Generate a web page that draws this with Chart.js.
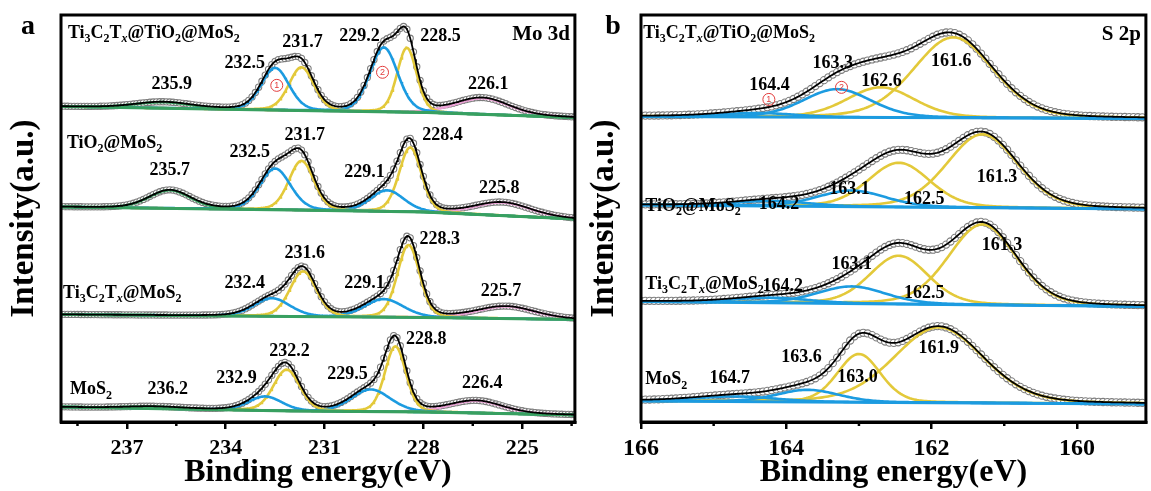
<!DOCTYPE html>
<html>
<head>
<meta charset="utf-8">
<script src="https://cdn.jsdelivr.net/npm/chart.js@4.4.1/dist/chart.umd.min.js"></script>
<style>
  html, body { margin: 0; padding: 0; background: #fff; }
  body { width: 1151px; height: 491px; position: relative; overflow: hidden; }
  .panel { position: absolute; top: 0; height: 491px; }
  #panelA { left: 0; width: 580px; }
  #panelB { left: 580px; width: 571px; }
</style>
</head>
<body>
<div class="panel" id="panelA"><canvas id="moChart"></canvas></div>
<div class="panel" id="panelB"><canvas id="sChart"></canvas></div>
<script>
/* ============================================================
   XPS fits: Mo 3d (a) and S 2p (b), four samples stacked
   intensity is in arbitrary units, offset per sample
============================================================ */

// ---- axes ----
const moRange = [223.4, 239];
const moMajorTicks = [237, 234, 231, 228, 225];
const moMinorTicks = [238.5, 235.5, 232.5, 229.5, 226.5, 223.5];
const sRange = [159.05, 166];
const sMajorTicks = [166, 164, 162, 160];
const sMinorTicks = [165, 163, 161];
const yTop = 405;

// ---- Mo 3d, peak fits (center eV, height, fwhm eV) ----
// Ti3C2Tx@TiO2@MoS2
const mo1Base = [[239, 314], [231.8, 310], [227.9, 308], [223.4, 303]];
const mo1Centers = [235.9, 232.5, 231.7, 229.2, 228.5, 226.2];
const mo1Heights = [6, 42, 43, 64, 64, 16];
const mo1Fwhm = [2.0, 1.0, 0.9, 1.0, 0.7, 1.9];
const mo1Kinds = ['Mo6+', '1T', '2H', '1T', '2H', 'S2s'];
// TiO2@MoS2
const mo2Base = [[239, 214], [232, 211], [228, 209], [223.4, 202]];
const mo2Centers = [235.7, 232.5, 231.7, 229.1, 228.4, 225.6];
const mo2Heights = [18, 41, 49, 21, 64, 13];
const mo2Fwhm = [1.5, 1.1, 0.9, 1.2, 0.8, 2.0];
const mo2Kinds = ['Mo6+', '1T', '2H', '1T', '2H', 'S2s'];
// Ti3C2Tx@MoS2
const mo3Base = [[239, 107], [232, 105], [228, 104], [223.4, 102]];
const mo3Centers = [232.6, 231.65, 229.2, 228.45, 225.5];
const mo3Heights = [18, 45, 18, 72, 12];
const mo3Fwhm = [1.3, 0.95, 1.4, 0.8, 2.1];
const mo3Kinds = ['1T', '2H', '1T', '2H', 'S2s'];
// MoS2
const mo4Base = [[239, 15], [232, 11], [228, 10], [223.4, 7]];
const mo4Centers = [236.2, 232.8, 232.15, 229.6, 228.85, 226.4];
const mo4Heights = [2, 14, 41, 22, 65, 12];
const mo4Fwhm = [2.0, 1.2, 0.95, 1.4, 0.75, 1.9];
const mo4Kinds = ['Mo6+', '1T', '2H', '1T', '2H', 'S2s'];

// ---- S 2p ----
const s1Base = [[166, 304], [159.05, 302]];
const s1Centers = [164.4, 163.3, 162.7, 161.7];
const s1Heights = [4, 28, 30, 80];
const s1Fwhm = [1.2, 1.1, 1.1, 1.3];
const s1Kinds = ['1T', '1T', '2H', '2H'];

const s2Base = [[166, 216], [159.05, 212]];
const s2Centers = [164.2, 163.1, 162.45, 161.3];
const s2Heights = [5, 16, 44, 73];
const s2Fwhm = [1.2, 1.1, 1.0, 1.15];
const s2Kinds = ['1T', '1T', '2H', '2H'];

const s3Base = [[166, 120], [159.05, 115]];
const s3Centers = [164.2, 163.1, 162.45, 161.3];
const s3Heights = [5, 17, 48, 80];
const s3Fwhm = [1.2, 1.1, 0.95, 1.1];
const s3Kinds = ['1T', '1T', '2H', '2H'];

const s4Base = [[166, 21], [159.05, 18]];
const s4Centers = [164.7, 163.7, 163.0, 161.9];
const s4Heights = [5, 12, 48, 75];
const s4Fwhm = [1.3, 1.0, 0.7, 1.45];
const s4Kinds = ['1T', '1T', '2H', '2H'];

// ---- sample names (segments: text, '' | 'sub' | 'subi') ----
const nameTTM = [['Ti', ''], ['3', 'sub'], ['C', ''], ['2', 'sub'], ['T', ''], ['x', 'subi'], ['@TiO', ''], ['2', 'sub'], ['@MoS', ''], ['2', 'sub']];
const nameTM = [['TiO', ''], ['2', 'sub'], ['@MoS', ''], ['2', 'sub']];
const nameTCM = [['Ti', ''], ['3', 'sub'], ['C', ''], ['2', 'sub'], ['T', ''], ['x', 'subi'], ['@MoS', ''], ['2', 'sub']];
const nameM = [['MoS', ''], ['2', 'sub']];

// ---- peak labels [text, eV, y] ----
const mo1Labels = [['235.9', 235.64, 336], ['232.5', 233.42, 357], ['231.7', 231.67, 378], ['229.2', 229.94, 384], ['228.5', 227.48, 384], ['226.1', 226.03, 336]];
const mo2Labels = [['235.7', 235.7, 250], ['232.5', 233.27, 268], ['231.7', 231.6, 285], ['229.1', 229.79, 248], ['228.4', 227.42, 285], ['225.8', 225.7, 233]];
const mo3Labels = [['232.4', 233.42, 138], ['231.6', 231.6, 168], ['229.1', 229.79, 138], ['228.3', 227.5, 182], ['225.7', 225.64, 130]];
const mo4Labels = [['236.2', 235.76, 32], ['232.9', 233.67, 43], ['232.2', 232.06, 70], ['229.5', 230.3, 47], ['228.8', 227.91, 82], ['226.4', 226.21, 38]];
const moNameLabels = [[nameTTM, 238.79, 387], [nameTM, 238.82, 277], [nameTCM, 238.94, 128], [nameM, 238.73, 32]];
const moMarks = [['1', 232.45, 335], ['2', 229.24, 348]];

const s1Labels = [['164.4', 164.23, 335], ['163.3', 163.36, 357], ['162.6', 162.69, 339], ['161.6', 161.73, 359]];
const s2Labels = [['164.2', 164.1, 217], ['163.1', 163.13, 232], ['162.5', 162.1, 222], ['161.3', 161.1, 243]];
const s3Labels = [['164.2', 164.05, 135], ['163.1', 163.1, 157], ['162.5', 162.1, 128], ['161.3', 161.03, 176]];
const s4Labels = [['164.7', 164.78, 43], ['163.6', 163.79, 64], ['163.0', 163.02, 44], ['161.9', 161.9, 73]];
const sNameLabels = [[nameTTM, 165.97, 387], [nameTM, 165.94, 215], [nameTCM, 165.94, 137], [nameM, 165.94, 42]];
const sMarks = [['1', 164.24, 321], ['2', 163.24, 333]];

// ---- styling ----
const SERIF = "'Liberation Serif', 'Times New Roman', serif";
const GL_MIX = 0.2;   // lorentzian fraction of the pseudo-voigt shape
const kindColor = {'2H': '#e3c93a', '1T': '#1c9be0', 'S2s': '#eca2d6', 'Mo6+': '#38a060'};

function baseAt(base, e) {
  for (let i = 0; i < base.length - 1; i++) {
    const [e0, y0] = base[i], [e1, y1] = base[i + 1];
    if (e <= e0 && e >= e1) return y0 + (y1 - y0) * (e - e0) / (e1 - e0);
  }
  return e > base[0][0] ? base[0][1] : base[base.length - 1][1];
}

function peakAt(e, c, h, w) {
  const d = 2 * (e - c) / w;
  return h * ((1 - GL_MIX) * Math.exp(-Math.LN2 * d * d) + GL_MIX / (1 + d * d));
}

function energyGrid(range, step) {
  const g = [];
  for (let e = range[1]; e >= range[0] - 1e-9; e -= step) g.push(+e.toFixed(3));
  return g;
}

// one sample -> datasets (fit components, background, raw circles, envelope)
function spectrumSets(range, base, centers, heights, fwhm, kinds, baseColor, dot) {
  const lineE = energyGrid(range, 0.025);
  const dotE = energyGrid(range, dot.step);
  const env = (e) => baseAt(base, e) + centers.reduce((s, c, i) => s + peakAt(e, c, heights[i], fwhm[i]), 0);
  const sets = [];
  centers.forEach((c, i) => {
    sets.push({
      data: lineE.map(e => ({x: e, y: baseAt(base, e) + peakAt(e, c, heights[i], fwhm[i])})),
      borderColor: kindColor[kinds[i]], borderWidth: 2.6, pointRadius: 0, order: 2,
    });
  });
  sets.push({
    data: base.map(([e, y]) => ({x: e, y})),
    borderColor: baseColor, borderWidth: 3, pointRadius: 0, order: 1,
  });
  sets.push({
    data: dotE.map(e => ({x: e, y: env(e)})),
    showLine: false, pointRadius: dot.r, pointBorderWidth: 1.1,
    pointBorderColor: '#7d7d7d', pointBackgroundColor: '#ffffff', order: 3,
  });
  sets.push({
    data: lineE.map(e => ({x: e, y: env(e)})),
    borderColor: '#000', borderWidth: 1.8, pointRadius: 0, order: 0,
  });
  return sets;
}

function drawRich(ctx, segs, x, y, size) {
  let cx = x;
  ctx.textAlign = 'left';
  for (const [txt, kind] of segs) {
    const sub = kind !== '';
    const fs = sub ? Math.round(size * 0.68) : size;
    ctx.font = `${kind === 'subi' ? 'italic ' : ''}bold ${fs}px ${SERIF}`;
    ctx.fillText(txt, cx, sub ? y + size * 0.32 : y);
    cx += ctx.measureText(txt).width;
  }
}

const decorPlugin = {
  id: 'decor',
  afterDatasetsDraw(chart, args, opts) {
    const {ctx, chartArea: a, scales: {x, y}} = chart;
    ctx.save();
    ctx.strokeStyle = '#000';
    ctx.lineWidth = 3;
    ctx.strokeRect(a.left, a.top, a.right - a.left, a.bottom - a.top);
    ctx.lineWidth = 2.5;
    opts.minor.forEach(v => {
      const px = x.getPixelForValue(v);
      ctx.beginPath(); ctx.moveTo(px, a.bottom); ctx.lineTo(px, a.bottom + 4); ctx.stroke();
    });

    ctx.fillStyle = '#000';
    ctx.textBaseline = 'middle';
    ctx.textAlign = 'center';
    ctx.font = `bold 18px ${SERIF}`;
    opts.labels.forEach(list => list.forEach(([t, e, v]) => {
      ctx.fillText(t, x.getPixelForValue(e), y.getPixelForValue(v));
    }));
    opts.names.forEach(([segs, e, v]) => drawRich(ctx, segs, x.getPixelForValue(e), y.getPixelForValue(v), 18));

    // circled markers
    opts.marks.forEach(([n, e, v]) => {
      const px = x.getPixelForValue(e), py = y.getPixelForValue(v);
      ctx.strokeStyle = '#e23b3b'; ctx.fillStyle = '#e23b3b'; ctx.lineWidth = 1;
      ctx.beginPath(); ctx.arc(px, py, 6, 0, Math.PI * 2); ctx.stroke();
      ctx.font = `9px 'Liberation Sans', sans-serif`; ctx.textAlign = 'center';
      ctx.fillText(n, px, py + 0.5);
    });

    ctx.fillStyle = '#000';
    ctx.font = `bold 21px ${SERIF}`;
    ctx.textAlign = 'right';
    ctx.fillText(opts.title, a.right - 5, a.top + 20);

    ctx.font = `bold 28px ${SERIF}`;
    ctx.textAlign = 'center';
    ctx.textBaseline = 'alphabetic';
    ctx.fillText(opts.letter, opts.letterX, 34);
    ctx.restore();
  }
};

function makeChart(canvasId, range, major, sets, decor, padRight, tickSize) {
  const font = (size) => ({family: SERIF, size, weight: 'bold', lineHeight: 1});
  return new Chart(document.getElementById(canvasId), {
    type: 'line',
    data: {datasets: sets},
    plugins: [decorPlugin],
    options: {
      responsive: true, maintainAspectRatio: false, animation: false, events: [],
      layout: {padding: {left: 8, right: padRight, top: 15, bottom: 0}},
      elements: {line: {tension: 0, fill: false}},
      plugins: {legend: {display: false}, tooltip: {enabled: false}, decor},
      scales: {
        x: {
          type: 'linear', reverse: true, min: range[0], max: range[1],
          afterBuildTicks: (axis) => { axis.ticks = major.map(v => ({value: v})); },
          ticks: {color: '#000', font: font(tickSize), padding: 8, maxRotation: 0, callback: v => String(v)},
          grid: {drawOnChartArea: false, tickLength: 7, lineWidth: 2.5, color: '#000'},
          border: {display: true, color: '#000', width: 3},
          title: {display: true, text: 'Binding energy(eV)', color: '#000', font: font(32), padding: {top: -10 - (tickSize - 22), bottom: 2}},
        },
        y: {
          min: 0, max: yTop,
          ticks: {display: false},
          grid: {display: false, drawTicks: false},
          border: {display: false},
          title: {display: true, text: 'Intensity(a.u.)', color: '#000', font: font(33), padding: {top: 0, bottom: 20}},
        },
      },
    },
  });
}

const moDot = {step: 0.1, r: 3.1};
const moSets = [
  ...spectrumSets(moRange, mo1Base, mo1Centers, mo1Heights, mo1Fwhm, mo1Kinds, kindColor['Mo6+'], moDot),
  ...spectrumSets(moRange, mo2Base, mo2Centers, mo2Heights, mo2Fwhm, mo2Kinds, kindColor['Mo6+'], moDot),
  ...spectrumSets(moRange, mo3Base, mo3Centers, mo3Heights, mo3Fwhm, mo3Kinds, kindColor['Mo6+'], moDot),
  ...spectrumSets(moRange, mo4Base, mo4Centers, mo4Heights, mo4Fwhm, mo4Kinds, kindColor['Mo6+'], moDot),
];
const sDot = {step: 0.06, r: 3.6};
const sSets = [
  ...spectrumSets(sRange, s1Base, s1Centers, s1Heights, s1Fwhm, s1Kinds, kindColor['1T'], sDot),
  ...spectrumSets(sRange, s2Base, s2Centers, s2Heights, s2Fwhm, s2Kinds, kindColor['1T'], sDot),
  ...spectrumSets(sRange, s3Base, s3Centers, s3Heights, s3Fwhm, s3Kinds, kindColor['1T'], sDot),
  ...spectrumSets(sRange, s4Base, s4Centers, s4Heights, s4Fwhm, s4Kinds, kindColor['1T'], sDot),
];

makeChart('moChart', moRange, moMajorTicks, moSets, {
  minor: moMinorTicks, labels: [mo1Labels, mo2Labels, mo3Labels, mo4Labels],
  names: moNameLabels, marks: moMarks, title: 'Mo 3d', letter: 'a', letterX: 28,
}, 5, 22);

makeChart('sChart', sRange, sMajorTicks, sSets, {
  minor: sMinorTicks, labels: [s1Labels, s2Labels, s3Labels, s4Labels],
  names: sNameLabels, marks: sMarks, title: 'S 2p', letter: 'b', letterX: 33,
}, 4, 24);
</script>
</body>
</html>
